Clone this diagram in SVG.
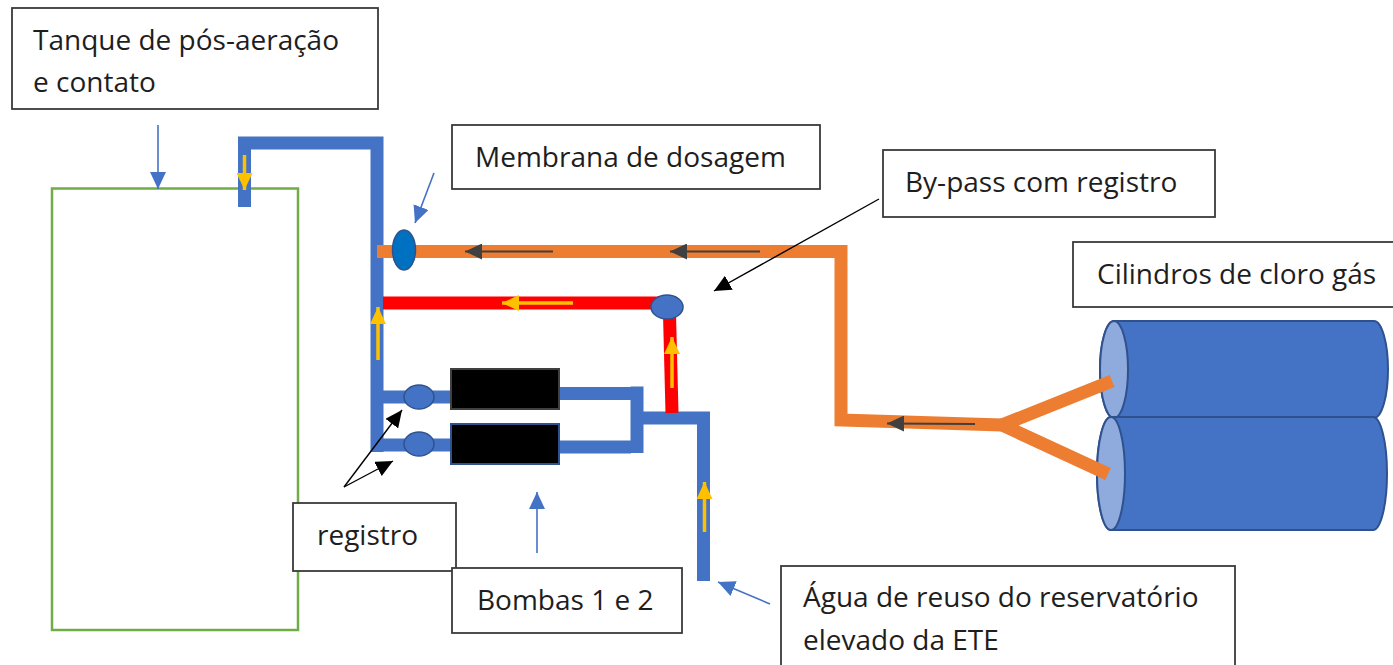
<svg xmlns="http://www.w3.org/2000/svg" width="1393" height="665" viewBox="0 0 1393 665">
<style>
.box{fill:#fff;stroke:#3a3a3a;stroke-width:1.8}
.lbl{font-family:"Open Sans","Noto Sans","Liberation Sans",sans-serif;font-size:28px;fill:#1e1e1e}
.blue{fill:none;stroke:#4472C4;stroke-width:13;stroke-linejoin:miter;stroke-linecap:butt}
.orange{fill:none;stroke:#ED7D31;stroke-width:13;stroke-linejoin:miter;stroke-linecap:butt}
.red{fill:none;stroke:#FF0000;stroke-width:13;stroke-linecap:butt}
.yel{fill:none;stroke:#FFC000;stroke-width:3.5}
.dk{fill:none;stroke:#404040;stroke-width:2}
.thinb{fill:none;stroke:#4472C4;stroke-width:1.6}
.think{fill:none;stroke:#000;stroke-width:1.4}
.valve{fill:#4472C4;stroke:#2F528F;stroke-width:1.5}
.cyl{fill:#4472C4;stroke:#2F528F;stroke-width:2}
.cend{fill:#8FAADC;stroke:#2F528F;stroke-width:2}
</style>
<defs>
<marker id="mY" markerUnits="userSpaceOnUse" markerWidth="18" markerHeight="16" refX="17" refY="8" orient="auto"><path d="M0,0 L17,8 L0,16 z" fill="#FFC000"/></marker>
<marker id="mD" markerUnits="userSpaceOnUse" markerWidth="18" markerHeight="16" refX="17" refY="8" orient="auto"><path d="M0,0 L17,8 L0,16 z" fill="#404040"/></marker>
<marker id="mB" markerUnits="userSpaceOnUse" markerWidth="18" markerHeight="16" refX="17" refY="8" orient="auto"><path d="M0,0 L17,8 L0,16 z" fill="#4472C4"/></marker>
<marker id="mK" markerUnits="userSpaceOnUse" markerWidth="18" markerHeight="16" refX="17" refY="8" orient="auto"><path d="M0,0 L17,8 L0,16 z" fill="#000"/></marker>
</defs>

<g id="tank">
<rect x="52" y="188.5" width="246" height="441.5" fill="none" stroke="#70AD47" stroke-width="2.5"/>
</g>

<g id="cylinders">
<path class="cyl" d="M1114,321 L1374,321 A14,48.5 0 0 1 1374,418 L1114,418 A14,48.5 0 0 1 1114,321 z"/>
<ellipse class="cend" cx="1114" cy="369.5" rx="14" ry="48.5"/>
<path class="cyl" d="M1111,417 L1373,417 A14,56.5 0 0 1 1373,530 L1111,530 A14,56.5 0 0 1 1111,417 z"/>
<ellipse class="cend" cx="1111" cy="473.5" rx="14" ry="56.5"/>
</g>

<g id="connectors">
<!-- blue water pipes -->
<polyline class="blue" points="244.5,207 244.5,143 377,143 377,452"/>
<line class="blue" x1="377" y1="397" x2="452" y2="397"/>
<line class="blue" x1="377" y1="445" x2="452" y2="445"/>
<line class="blue" x1="558" y1="393.5" x2="643" y2="393.5"/>
<line class="blue" x1="558" y1="447" x2="631" y2="447"/>
<line class="blue" x1="637" y1="386.5" x2="637" y2="453"/>
<polyline class="blue" points="643,418 703.5,418 703.5,581"/>
<!-- red by-pass -->
<line class="red" x1="383" y1="303" x2="660" y2="303"/>
<line class="red" x1="669.5" y1="314" x2="672" y2="413"/>
<!-- orange chlorine gas -->
<polyline class="orange" points="377,251.5 841,251.5 841,420 1002,425"/>
<polyline class="orange" points="1112,381 1002,425 1108,474"/>
<!-- flow arrows -->
<line class="yel" x1="244.5" y1="155" x2="244.5" y2="190" marker-end="url(#mY)"/>
<line class="yel" x1="378" y1="360" x2="378" y2="307" marker-end="url(#mY)"/>
<line class="yel" x1="573" y1="303" x2="502" y2="303" marker-end="url(#mY)"/>
<line class="yel" x1="672" y1="388" x2="672" y2="337" marker-end="url(#mY)"/>
<line class="yel" x1="704.5" y1="532" x2="704.5" y2="482" marker-end="url(#mY)"/>
<line class="dk" x1="553" y1="251.5" x2="465" y2="251.5" marker-end="url(#mD)"/>
<line class="dk" x1="760" y1="251.5" x2="670" y2="251.5" marker-end="url(#mD)"/>
<line class="dk" x1="975" y1="424" x2="887" y2="423.5" marker-end="url(#mD)"/>
<!-- label pointers -->
<line class="thinb" x1="158" y1="125" x2="158" y2="189" marker-end="url(#mB)"/>
<line class="thinb" x1="434" y1="173" x2="415" y2="223" marker-end="url(#mB)"/>
<line class="thinb" x1="537" y1="553" x2="537" y2="492" marker-end="url(#mB)"/>
<line class="thinb" x1="770" y1="604" x2="718" y2="582" marker-end="url(#mB)"/>
<line class="think" x1="879" y1="199" x2="714" y2="291" marker-end="url(#mK)"/>
<line class="think" x1="344" y1="487" x2="402" y2="410" marker-end="url(#mK)"/>
<line class="think" x1="344" y1="487" x2="393" y2="461" marker-end="url(#mK)"/>
</g>

<g id="membrane-valve"><ellipse cx="404" cy="250" rx="11.5" ry="20" fill="#0070C0" stroke="#2F528F" stroke-width="1.5"/></g>
<g id="bypass-valve"><ellipse class="valve" cx="667" cy="307" rx="16" ry="12"/></g>
<g id="valve-1"><ellipse class="valve" cx="419" cy="397" rx="15" ry="12"/></g>
<g id="valve-2"><ellipse class="valve" cx="419" cy="444" rx="15" ry="12"/></g>
<g id="pump-1"><rect x="451" y="369" width="108" height="40" fill="#000" stroke="#404040" stroke-width="2"/></g>
<g id="pump-2"><rect x="451" y="424" width="108" height="40" fill="#000" stroke="#2F528F" stroke-width="2"/></g>

<g id="label-tanque">
<rect class="box" x="12" y="8" width="366" height="101"/>
<text class="lbl" x="33" y="50">Tanque de pós-aeração</text>
<text class="lbl" x="33" y="92">e contato</text>
</g>
<g id="label-membrana">
<rect class="box" x="452" y="125" width="368" height="64"/>
<text class="lbl" x="475" y="167">Membrana de dosagem</text>
</g>
<g id="label-bypass">
<rect class="box" x="883" y="150" width="332" height="67"/>
<text class="lbl" x="905" y="192">By-pass com registro</text>
</g>
<g id="label-cilindros">
<rect class="box" x="1073" y="242" width="330" height="65"/>
<text class="lbl" x="1097" y="284">Cilindros de cloro gás</text>
</g>
<g id="label-registro">
<rect class="box" x="293" y="503" width="163" height="68"/>
<text class="lbl" x="317" y="545">registro</text>
</g>
<g id="label-bombas">
<rect class="box" x="452" y="568" width="230" height="65"/>
<text class="lbl" x="477" y="610">Bombas 1 e 2</text>
</g>
<g id="label-agua">
<rect class="box" x="781" y="566" width="454" height="110"/>
<text class="lbl" x="803" y="607">Água de reuso do reservatório</text>
<text class="lbl" x="803" y="650">elevado da ETE</text>
</g>
</svg>
